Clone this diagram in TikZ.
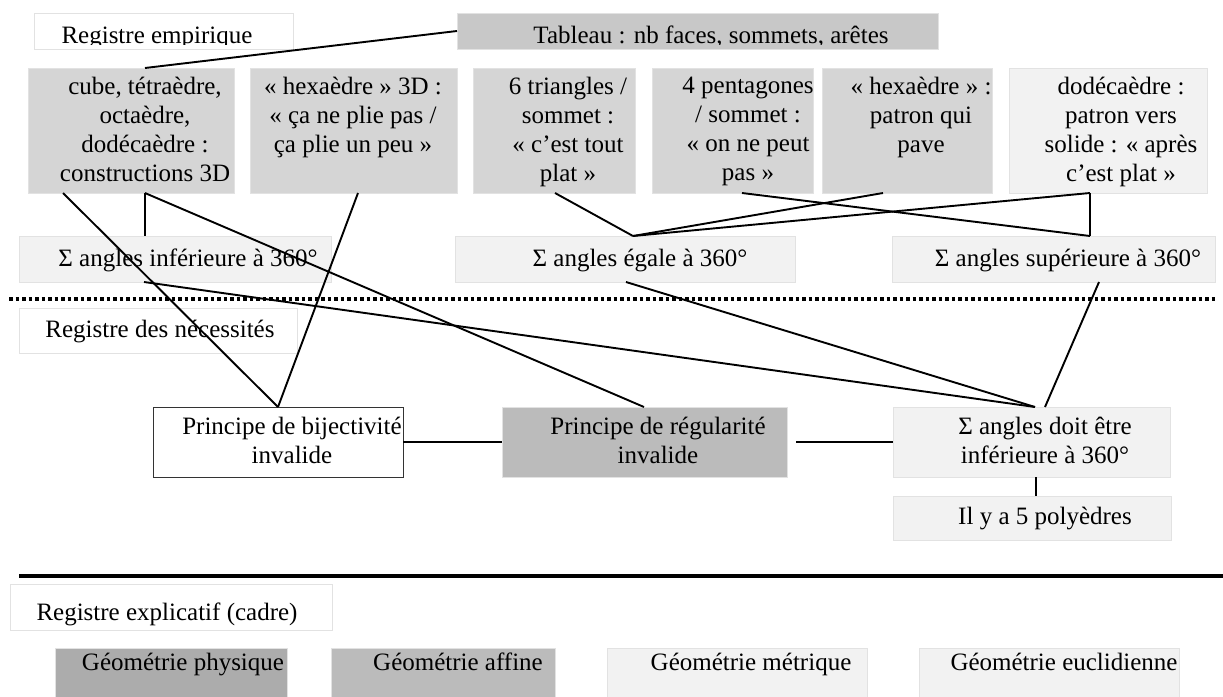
\documentclass[tikz,border=0pt]{standalone}
\usepackage{fontspec}
\setmainfont{Liberation Serif}
\definecolor{gA}{RGB}{213,213,213}
\definecolor{gT}{RGB}{200,200,200}
\definecolor{gL}{RGB}{242,242,242}
\definecolor{gR}{RGB}{187,187,187}
\definecolor{gP}{RGB}{172,172,172}
\definecolor{bdr}{RGB}{226,226,226}
\tikzset{
  cell/.style={fill=#1, draw=bdr, line width=0.8pt, inner sep=0pt, outer sep=0pt, anchor=north west},
  framed/.style={fill=white, draw=black!80, line width=1pt, inner sep=0pt, outer sep=0pt, anchor=north west},
  txt/.style={font=\fontsize{25}{29}\selectfont, align=center, inner sep=0pt, anchor=north, execute at begin node=\strut},
  link/.style={draw=black, line width=1.9pt},
  dotline/.style={draw=black, line width=4pt, dash pattern=on 3.5pt off 3pt},
  rule/.style={draw=black, line width=4pt}
}
\newcommand\mybox[6]{\node[#2, minimum width={#5-#3}, minimum height={#6-#4}] (#1) at (#3,#4) {};}
\begin{document}
\begin{tikzpicture}[x=1pt,y=-1pt]
\useasboundingbox (0,0) rectangle (1223,696);
% boxes
\mybox{regE}{cell=white}{34}{13}{293}{49}
\mybox{tab}{cell=gT}{457}{13}{938}{49}
\mybox{cube}{cell=gA}{28}{68}{234}{193}
\mybox{hexa}{cell=gA}{250}{68}{457}{193}
\mybox{tri}{cell=gA}{473}{68}{635}{193}
\mybox{pent}{cell=gA}{652}{68}{813}{193}
\mybox{hexp}{cell=gA}{822}{68}{992}{193}
\mybox{dod}{cell=gL}{1009}{68}{1207}{193}
\mybox{sinf}{cell=gL}{19}{236}{331}{282}
\mybox{segal}{cell=gL}{455}{236}{795}{282}
\mybox{ssup}{cell=gL}{892}{236}{1215}{282}
\mybox{regN}{cell=white}{19}{308}{297}{353}
\mybox{bij}{framed}{153}{407}{403}{477}
\mybox{reg}{cell=gR}{502}{407}{787}{477}
\mybox{doit}{cell=gL}{893}{407}{1170}{477}
\mybox{ilya}{cell=gL}{893}{496}{1171}{540}
\mybox{regX}{cell=white}{10}{584}{332}{630}
\mybox{gphys}{cell=gP}{55}{648}{287}{702}
\mybox{gaff}{cell=gR}{331}{648}{555}{702}
\mybox{gmet}{cell=gL}{607}{648}{867}{702}
\mybox{geuc}{cell=gL}{919}{648}{1179}{702}
% texts
\begin{scope}
\clip (30,10) rectangle (945,44.5);
\node[txt] (regEt) at (157,22.7) {Registre empirique};
\node[txt] (tabt) at (711,22.7) {Tableau : nb faces, sommets, arêtes};
\end{scope}
\node[txt] (cubet) at (145,76.7) {cube, tétraèdre,\\octaèdre,\\dodécaèdre :\\constructions 3D};
\node[txt] (hexat) at (353,76.7) {«~hexaèdre~» 3D :\\«~ça ne plie pas /\\ça plie un peu~»};
\node[txt] (trit) at (568,76.7) {6 triangles /\\sommet :\\«~c’est tout\\plat~»};
\node[txt] (pentt) at (748,76.7) {4 pentagones\\/ sommet :\\«~on ne peut\\pas~»};
\node[txt] (hexpt) at (921,76.7) {«~hexaèdre~» :\\patron qui\\pave};
\node[txt] (dodt) at (1121,76.7) {dodécaèdre :\\patron vers\\solide : «~après\\c’est plat~»};
\node[txt] (sinft) at (188,245.7) {Σ angles inférieure à 360°};
\node[txt] (segalt) at (640,245.7) {Σ angles égale à 360°};
\node[txt] (ssupt) at (1068,245.7) {Σ angles supérieure à 360°};
\node[txt] (regNt) at (160,316.7) {Registre des nécessités};
\node[txt] (bijt) at (292,416.7) {Principe de bijectivité\\invalide};
\node[txt] (regt) at (658,416.7) {Principe de régularité\\invalide};
\node[txt] (doitt) at (1045,416.7) {Σ angles doit être\\inférieure à 360°};
\node[txt] (ilyat) at (1045,503.7) {Il y a 5 polyèdres};
\node[txt] (regXt) at (167,599.7) {Registre explicatif (cadre)};
\node[txt] (gphyst) at (183,649.7) {Géométrie physique};
\node[txt] (gafft) at (458,649.7) {Géométrie affine};
\node[txt] (gmett) at (751,649.7) {Géométrie métrique};
\node[txt] (geuct) at (1064,649.7) {Géométrie euclidienne};
% separators
\coordinate (dotL) at (9,299);
\coordinate (dotR) at (1215,299);
\coordinate (ruleL) at (19,576);
\coordinate (ruleR) at (1223,576);
\draw[dotline] (dotL) -- (dotR);
\draw[rule] (ruleL) -- (ruleR);
% connectors
\draw[link] (tab.west) -- ([xshift=117pt]cube.north west);
\draw[link] ([xshift=35pt]cube.south west) -- ([xshift=125pt]bij.north west);
\draw[link] ([xshift=117pt]cube.south west) -- ([xshift=126pt]sinf.north west);
\draw[link] ([xshift=117pt]cube.south west) -- ([xshift=142pt]reg.north west);
\draw[link] ([xshift=108pt]hexa.south west) -- ([xshift=125pt]bij.north west);
\draw[link] ([xshift=125pt]sinf.south west) -- ([xshift=142pt]doit.north west);
\draw[link] ([xshift=82pt]tri.south west) -- ([xshift=178pt]segal.north west);
\draw[link] ([xshift=61pt]hexp.south west) -- ([xshift=178pt]segal.north west);
\draw[link] ([xshift=81pt]dod.south west) -- ([xshift=178pt]segal.north west);
\draw[link] ([xshift=81pt]dod.south west) -- ([xshift=198pt]ssup.north west);
\draw[link] ([xshift=90pt]pent.south west) -- ([xshift=198pt]ssup.north west);
\draw[link] ([xshift=171pt]segal.south west) -- ([xshift=142pt]doit.north west);
\draw[link] ([xshift=207pt]ssup.south west) -- ([xshift=152pt]doit.north west);
\draw[link] (bij.east) -- (reg.west);
\draw[link] ([xshift=9pt]reg.east) -- (doit.west);
\draw[link] ([xshift=143pt]doit.south west) -- ([xshift=143pt]ilya.north west);
\end{tikzpicture}
\end{document}
